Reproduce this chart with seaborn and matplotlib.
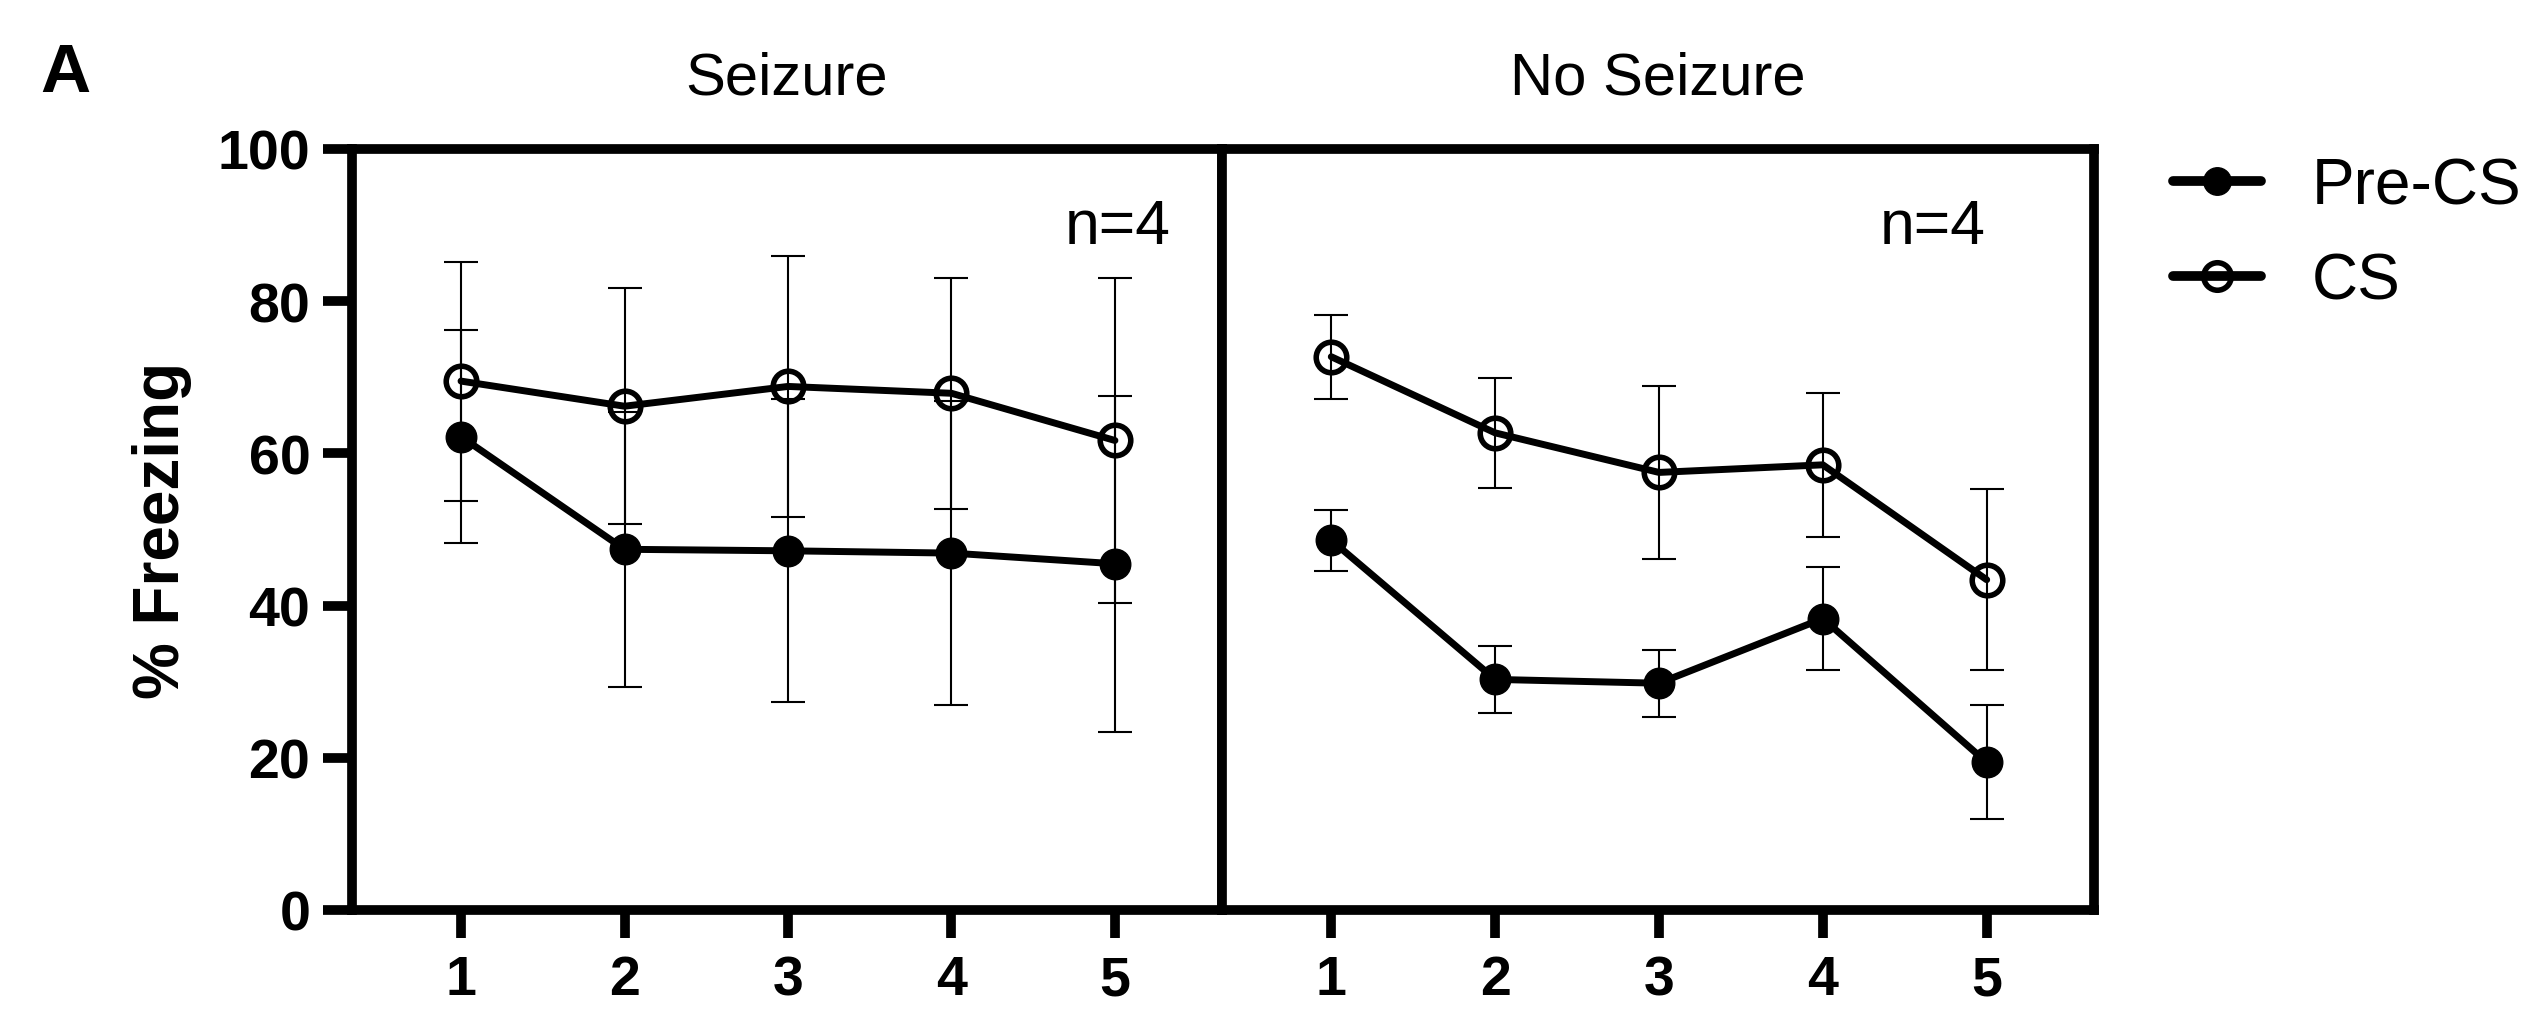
import seaborn as sns
import matplotlib.pyplot as plt
import pandas as pd

# Freezing (%) per trial, mean and SEM
trials = [1, 2, 3, 4, 5]

seizure_pre = [62.2, 47.4, 47.2, 46.9, 45.5]
seizure_pre_sem = [14.0, 18.1, 19.9, 20.0, 22.1]
seizure_cs = [69.5, 66.2, 68.8, 67.9, 61.7]
seizure_cs_sem = [15.7, 15.5, 17.1, 15.2, 21.4]

noseizure_pre = [48.6, 30.3, 29.8, 38.3, 19.4]
noseizure_pre_sem = [4.0, 4.4, 4.4, 6.8, 7.5]
noseizure_cs = [72.7, 62.7, 57.5, 58.5, 43.4]
noseizure_cs_sem = [5.5, 7.2, 11.4, 9.5, 11.9]

groups = ["Seizure", "No Seizure"]
phases = ["Pre-CS", "CS"]
n_labels = ["n=4", "n=4"]

rows = []
for group, pre, pre_sem, cs, cs_sem in [
    ("Seizure", seizure_pre, seizure_pre_sem, seizure_cs, seizure_cs_sem),
    ("No Seizure", noseizure_pre, noseizure_pre_sem, noseizure_cs, noseizure_cs_sem),
]:
    for i, t in enumerate(trials):
        rows.append({"group": group, "phase": "Pre-CS", "trial": t, "freezing": pre[i], "sem": pre_sem[i]})
        rows.append({"group": group, "phase": "CS", "trial": t, "freezing": cs[i], "sem": cs_sem[i]})
df = pd.DataFrame(rows)

sns.set_style("ticks")
plt.rcParams["font.family"] = ["Liberation Sans", "DejaVu Sans"]
plt.rcParams["text.color"] = "black"
plt.rcParams["axes.labelcolor"] = "black"
plt.rcParams["xtick.color"] = "black"
plt.rcParams["ytick.color"] = "black"

fig = plt.figure(figsize=(25.32, 10.12), dpi=100)
ax_l = fig.add_axes([352 / 2532, 1 - 911 / 1012, 870 / 2532, 761 / 1012])
ax_r = fig.add_axes([1222 / 2532, 1 - 911 / 1012, 872 / 2532, 761 / 1012])

spine_w = 7
for ax, group, ntxt, nx in zip([ax_l, ax_r], groups, n_labels, [0.941, 0.876]):
    sub = df[df["group"] == group]
    for phase in phases:
        s = sub[sub["phase"] == phase]
        filled = phase == "Pre-CS"
        ax.errorbar(s["trial"], s["freezing"], yerr=s["sem"], fmt="none",
                    ecolor="black", elinewidth=1.5, capsize=12, capthick=1.5, zorder=2)
        sns.lineplot(data=s, x="trial", y="freezing", ax=ax, color="black",
                     linewidth=5, marker="o",
                     markersize=22 if filled else 22,
                     markerfacecolor="black" if filled else "none",
                     markeredgecolor="black",
                     markeredgewidth=1 if filled else 4,
                     label=phase, zorder=3)
    if ax.get_legend() is not None:
        ax.get_legend().remove()

    ax.set_xlim(1 - 0.667, 5 + 0.655)
    ax.set_ylim(0, 100)
    ax.set_xticks(trials)
    ax.set_xticklabels([str(t) for t in trials], fontsize=40, fontweight="bold")
    ax.set_xlabel("")
    ax.set_ylabel("")
    ax.set_title(group, fontsize=43, pad=40, color="black")
    ax.text(nx, 0.898, ntxt, transform=ax.transAxes, ha="right", va="center", fontsize=45)
    for sp in ax.spines.values():
        sp.set_visible(True)
        sp.set_linewidth(spine_w)
        sp.set_color("black")
    ax.tick_params(axis="x", length=20, width=spine_w, pad=12, color="black")

ax_l.set_yticks([0, 20, 40, 60, 80, 100])
ax_l.set_yticklabels(["0", "20", "40", "60", "80", "100"], fontsize=40, fontweight="bold")
ax_l.tick_params(axis="y", length=21, width=spine_w, pad=9, color="black")
ax_l.set_ylabel("% Freezing", fontsize=46, fontweight="bold")
ax_l.yaxis.set_label_coords(-0.184, 0.5)

ax_r.set_yticks([])
ax_r.tick_params(axis="y", length=0)

handles, labels = ax_l.get_legend_handles_labels()
leg = fig.legend(handles, labels, loc="center left",
                 bbox_to_anchor=(2173 / 2532, 1 - 235 / 1012),
                 frameon=False, fontsize=46, handlelength=1.37, handletextpad=0.8,
                 labelspacing=0.55, borderpad=0, borderaxespad=0, markerscale=0.9)
for line in leg.get_lines():
    line.set_linewidth(7)

fig.text(40 / 2532, 1 - 42 / 1012, "A", fontsize=50, fontweight="bold", ha="left", va="top")

fig.savefig("out.png", dpi=100)
